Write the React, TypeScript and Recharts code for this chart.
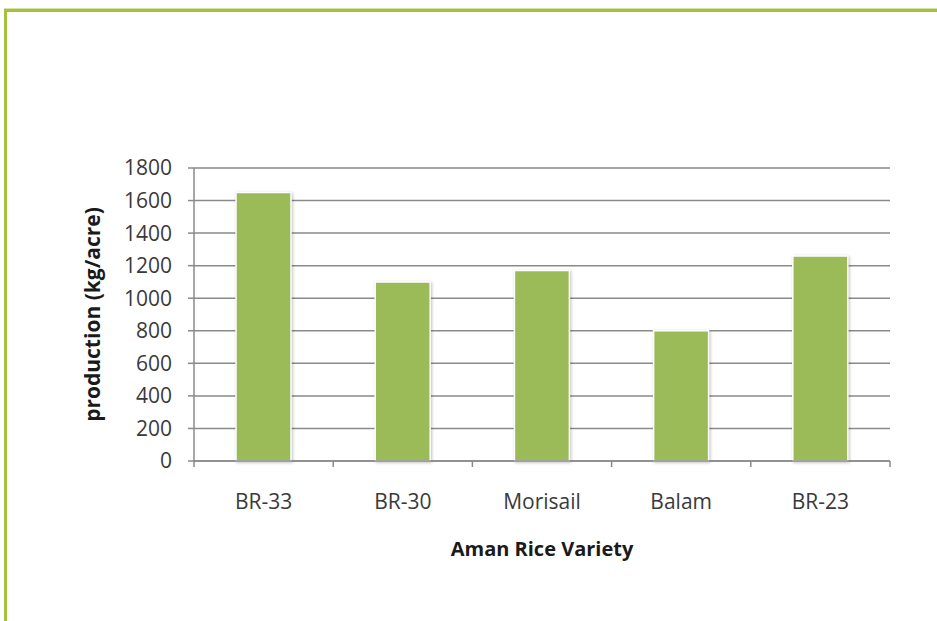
import React from "react";
import { BarChart, Bar, XAxis, YAxis, CartesianGrid, Rectangle } from "recharts";

const categories = ["BR-33", "BR-30", "Morisail", "Balam", "BR-23"];
const production = [1650, 1100, 1170, 800, 1260];
const yTicks = [0, 200, 400, 600, 800, 1000, 1200, 1400, 1600, 1800];

const data = categories.map((c, i) => ({ name: c, value: production[i] }));

const FONT = "'Open Sans', 'Noto Sans', sans-serif";
const AXIS = "#8a8a8a";

const XTick = (props: any) => {
  const { x, y, payload, index, visibleTicksCount } = props;
  const half = payload && typeof payload.offset === "number" && payload.offset > 0 ? payload.offset : 69.6;
  const last = index === (visibleTicksCount ?? categories.length) - 1;
  return (
    <g>
      <line x1={x - half} x2={x - half} y1={y} y2={y + 6} stroke={AXIS} strokeWidth={1.5} />
      {last && <line x1={x + half} x2={x + half} y1={y} y2={y + 6} stroke={AXIS} strokeWidth={1.5} />}
      <text x={x} y={y + 48} textAnchor="middle" fill="#3a3a3a" fontSize={21} fontFamily={FONT}>
        {payload.value}
      </text>
    </g>
  );
};

const BarShape = (props: any) => (
  <Rectangle {...props} style={{ filter: "drop-shadow(1px 1px 1.5px rgba(0,0,0,0.25))" }} />
);

export default function App() {
  return (
    <div style={{ position: "absolute", left: 0, top: 0, width: 937, height: 621, background: "#fff", overflow: "hidden" }}>
      <div
        style={{
          position: "absolute",
          left: 4,
          top: 9,
          width: 960,
          height: 640,
          borderTop: "3px solid #a3c13a",
          borderLeft: "3px solid #a3c13a",
          boxShadow: "0 -1px 0 #d5e3a0",
        }}
      />
      <div style={{ position: "absolute", left: 0, top: 0 }}>
        <BarChart
          width={937}
          height={621}
          data={data}
          margin={{ top: 168, right: 47, bottom: 0, left: 0 }}
          barSize={55}
        >
          <CartesianGrid vertical={false} stroke={AXIS} strokeWidth={1.5} />
          <XAxis
            dataKey="name"
            height={160}
            axisLine={{ stroke: AXIS, strokeWidth: 1.5 }}
            tickLine={false}
            tickSize={0}
            tickMargin={0}
            tick={<XTick />}
            interval={0}
            label={{
              value: "Aman Rice Variety",
              position: "insideTop",
              offset: 81,
              style: { fontFamily: FONT, fontWeight: 700, fontSize: 20, fill: "#1a1a1a" },
            }}
          />
          <YAxis
            width={194}
            domain={[0, 1800]}
            ticks={yTicks}
            interval={0}
            axisLine={{ stroke: AXIS, strokeWidth: 1.5 }}
            tickLine={{ stroke: AXIS, strokeWidth: 1.5 }}
            tickSize={6}
            tickMargin={16}
            tick={{ fontFamily: FONT, fontSize: 21, fill: "#3a3a3a" }}
            label={{
              value: "production (kg/acre)",
              angle: -90,
              position: "insideLeft",
              offset: 93,
              style: { fontFamily: FONT, fontWeight: 700, fontSize: 21, fill: "#1a1a1a", textAnchor: "middle" },
            }}
          />
          <Bar
            dataKey="value"
            fill="#9bbb59"
            stroke="#ffffff"
            strokeWidth={1.5}
            isAnimationActive={false}
            shape={<BarShape />}
          />
        </BarChart>
      </div>
    </div>
  );
}
